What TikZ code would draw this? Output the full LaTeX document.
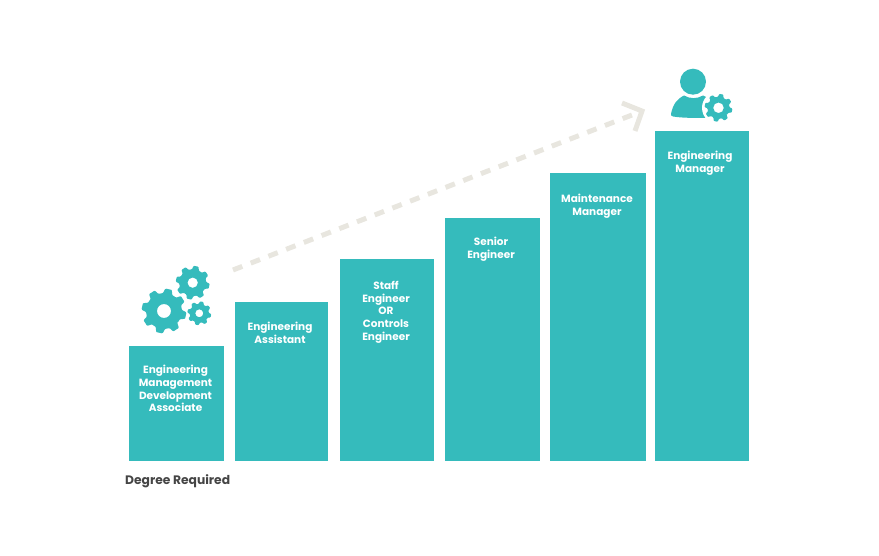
\documentclass[tikz,border=0pt]{standalone}
\usepackage{fontspec}
\setmainfont{Poppins}
\definecolor{teal}{HTML}{35BBBC}
\definecolor{dashc}{HTML}{E8E6DF}
\definecolor{ink}{HTML}{454545}
\newcommand{\gearshape}[6]{% cx cy Ro Ri hole teeth
  \fill[teal,even odd rule,rounded corners=0.8pt]
    ({#1+#4*cos((0.67)*360/#6+12)},{#2+#4*sin((0.67)*360/#6+12)})
    \foreach \k in {1,...,#6}{
      -- ({#1+#4*cos((\k-0.33)*360/#6+12)},{#2+#4*sin((\k-0.33)*360/#6+12)})
      -- ({#1+#3*cos((\k-0.19)*360/#6+12)},{#2+#3*sin((\k-0.19)*360/#6+12)})
      -- ({#1+#3*cos((\k+0.19)*360/#6+12)},{#2+#3*sin((\k+0.19)*360/#6+12)})
      -- ({#1+#4*cos((\k+0.33)*360/#6+12)},{#2+#4*sin((\k+0.33)*360/#6+12)})
    } -- cycle
    (#1,#2) circle (#5);
}
\tikzset{
  bar/.style={fill=teal,draw=none,inner sep=0,outer sep=0,anchor=north west},
  lbl/.style={text=white,font=\fontsize{10.5}{12.7}\selectfont\bfseries,align=center,anchor=north,inner sep=0},
  trail/.style={draw=dashc,line width=5pt},
}
\begin{document}
\begin{tikzpicture}[x=1pt,y=-1pt]
\useasboundingbox (0,0) rectangle (879,556);
\node[bar,minimum width=95pt,minimum height=115pt] (b1) at (129,346) {};
\node[bar,minimum width=93pt,minimum height=159pt] (b2) at (235,302) {};
\node[bar,minimum width=94pt,minimum height=202pt] (b3) at (340,259) {};
\node[bar,minimum width=95pt,minimum height=243pt] (b4) at (445,218) {};
\node[bar,minimum width=96pt,minimum height=288pt] (b5) at (550,173) {};
\node[bar,minimum width=94pt,minimum height=330pt] (b6) at (655,131) {};
\node[lbl] (t1) at (175.5,365) {Engineering\\Management\\Development\\Associate};
\node[lbl] (t2) at (280,322) {Engineering\\Assistant};
\node[lbl] (t3) at (386,281) {Staff\\Engineer\\OR\\Controls\\Engineer};
\node[lbl] (t4) at (491,237) {Senior\\Engineer};
\node[lbl] (t5) at (597,194) {Maintenance\\Manager};
\node[lbl] (t6) at (700,151) {Engineering\\Manager};
\node[anchor=west,inner sep=0,text=ink,font=\fontsize{12.3}{14}\selectfont\bfseries] (deg) at (125,481) {Degree Required};
\coordinate (s) at (233,270);
\coordinate (e) at (632,115);
\coordinate (h1) at (622,103);
\coordinate (h2) at (642,111);
\coordinate (h3) at (635,131);
\draw[trail,dash pattern=on 10pt off 9pt] (s) -- (e);
\draw[trail] (h1) -- (h2) -- (h3);
\gearshape{164}{311}{22.5}{18}{7}{8}
\gearshape{192.7}{282.7}{17}{13.5}{5.2}{8}
\gearshape{199.3}{313.3}{12}{9.5}{4}{8}
% person
\fill[teal] (693,81.7) circle (13);
\fill[teal] (671,114) .. controls (673,104) and (677,99) .. (684,95.5)
  .. controls (690,99) and (697,99) .. (703,95.5)
  .. controls (709,98) and (712,101) .. (714,104)
  -- (706,118) .. controls (695,118) and (682,118) .. (673,116.5)
  .. controls (671,116) and (670.7,115) .. (671,114) -- cycle;
\fill[white] (718.5,107.8) circle (16.5);
\gearshape{718.5}{107.8}{14}{11}{5.3}{8}
\end{tikzpicture}
\end{document}
